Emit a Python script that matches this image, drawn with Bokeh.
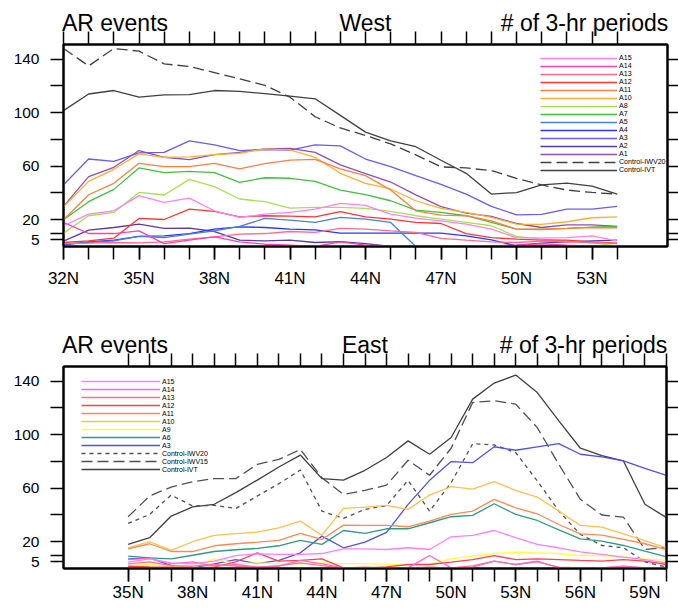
from bokeh.plotting import figure
from bokeh.layouts import column
from bokeh.models import Range1d, LinearAxis, FixedTicker, Legend, LegendItem
from bokeh.embed import file_html
from bokeh.resources import INLINE

FONT = "Liberation Sans"

# ---------------- West panel data ----------------
lat_w = [32, 33, 34, 35, 36, 37, 38, 39, 40, 41, 42, 43, 44, 45, 46, 47, 48, 49, 50, 51, 52, 53, 54]
ivt_w = [101.6, 114, 116.6, 111.6, 113.4, 113.6, 116.6, 116, 114.3, 112.4, 110.4, 98, 85.5, 79, 74.6, 64.5, 54.7, 39.2, 40.3, 46.1, 47.3, 45.1, 39.1]
iwv20_w = [148, 135, 148, 146, 136.5, 134.6, 130, 125.3, 120.5, 111.6, 97, 88.6, 83, 76.7, 68.5, 59.5, 58.7, 56.7, 51, 46, 42.2, 40.4, 39.2]
a1_w = [30, 52.2, 59.2, 71.7, 66.7, 65, 68.7, 70.4, 73, 73.4, 70.4, 61, 54.5, 48.2, 38.6, 29.8, 25, 22.5, 17.2, 14.2, 16.2, 16.2, 15]
a2_w = [4, 12.2, 14.2, 16.7, 13.5, 13.7, 11.2, 4.7, 4.2, 4.7, 3, 3.7, 2.2, 0, 0, 0.3, 0.3, 0.5, 1, 2.5, 3.5, 4.2, 4.7]
a3_w = [46.2, 65.4, 63.7, 70, 70.4, 79, 76, 71.7, 72.5, 72, 75.9, 75.2, 65.4, 59.7, 53, 46.5, 39.2, 30, 23.7, 24, 28, 28, 30]
a4_w = [1.2, 3.5, 4.7, 7.5, 8, 9.7, 13, 14.7, 14.2, 13, 12.5, 10, 10, 10, 10, 10, 8, 5, 0.5, 0.5, 0.5, 0.3, 0.3]
a5_w = [1.7, 3, 4.2, 7.5, 6.7, 9.2, 11.7, 15, 21, 19.7, 18, 21.7, 20.5, 18, 0, 0, 0, 0, 0, 0, 0, 0, 0]
a7_w = [20, 33.5, 42.7, 58.7, 55.2, 56.2, 55.2, 48, 51.4, 51, 48.7, 42.2, 38.7, 34.2, 27.2, 25.5, 23, 18, 13, 12.7, 13.5, 14.5, 15]
a8_w = [10, 23, 25.5, 40.4, 38.5, 50.2, 44.7, 35.5, 33.5, 28.7, 29.2, 29.2, 28.5, 26.2, 23, 20.5, 18, 15.5, 7.5, 5.5, 4.2, 2.7, 0.5]
a10_w = [29.7, 48.7, 57.7, 69.2, 66.7, 67, 68.7, 69.7, 73, 72.2, 66.7, 54.7, 47.2, 43, 34.2, 28.5, 25.5, 21.7, 16.7, 16.5, 18.5, 21.5, 22.2]
a11_w = [20, 38.7, 47.2, 62.2, 59.7, 59.7, 62.2, 58, 62, 64.5, 65.2, 58, 53, 42.2, 26.7, 23.5, 23, 19.2, 13, 13, 13.5, 14.2, 14]
a12_w = [3, 4.2, 6.2, 21, 20.2, 28, 26.2, 22.2, 23, 22.7, 22.2, 26, 22.2, 20.5, 18, 17.2, 9.7, 6.7, 5.5, 4.7, 4.7, 3.5, 2.5]
a13_w = [2.2, 2.5, 3, 2.7, 3.5, 5.5, 7.2, 9.2, 9.7, 11.2, 10.5, 13.5, 13, 11.7, 10.5, 6, 4.7, 3.5, 3, 4, 3.5, 3, 2.2]
a14_w = [18, 9.7, 9.7, 11.7, 2.2, 4.7, 7.2, 3.5, 1.7, 1, 0, 3.5, 1, 0.5, 0, 0.3, 0.5, 0.5, 1, 2, 1, 0.3, 0.5]
a15_w = [15.5, 24.2, 26.7, 38, 33, 36.2, 26.7, 21.7, 24.2, 25.5, 28, 32.2, 30.7, 24.2, 21.2, 19.2, 16.7, 13, 6.7, 6.2, 6.7, 8, 4.2]

# ---------------- East panel data ----------------
lat_e = [35, 36, 37, 38, 39, 40, 41, 42, 43, 44, 45, 46, 47, 48, 49, 50, 51, 52, 53, 54, 55, 56, 57, 58, 59, 60]
ivt_e = [18, 23, 39.2, 46, 48, 56.7, 66.1, 75.9, 84.8, 67.2, 66.1, 73.4, 83, 95.4, 85.4, 97.9, 126.6, 138.6, 144.6, 131.5, 110.3, 89.9, 84.4, 80.4, 48, 38]
iwv15_e = [38.7, 54.2, 60.9, 64.9, 67.2, 67.2, 77.9, 81.6, 88.9, 67.9, 55.4, 58.4, 62.3, 80.9, 69.7, 89.9, 124.1, 125.4, 122.8, 105.3, 77.9, 51.7, 40, 38.4, 14.2, 15.7]
iwv20_e = [33.7, 40.4, 54.9, 46.7, 47.2, 44.9, 54.2, 63.4, 73.6, 42.9, 37.4, 44.2, 47, 65.9, 42.9, 64.2, 93.3, 92.4, 86.6, 65.4, 42.9, 25.5, 17.2, 15.5, 5, 1]
a3_e = [7.2, 8, 2.2, 0.5, 3.5, 6.7, 3.7, 6, 11.7, 24.2, 15.5, 19.7, 27, 47.9, 65.9, 79.9, 79.1, 91, 88.4, 90.9, 93.4, 85.4, 83.4, 80.4, 74.9, 69.7]
a6_e = [9.2, 8, 7.2, 9.9, 12.7, 14, 15, 17, 21, 18, 28.4, 26.2, 29.7, 29.7, 34.2, 38.7, 39.7, 48.4, 40.4, 35.9, 28.9, 22.2, 20.4, 17.2, 13, 8.7]
a9_e = [2.2, 3, 1.7, 0.5, 7.2, 3.5, 4.2, 3.7, 3.5, 4.2, 3.7, 3.7, 3.2, 2.5, 3, 7.2, 9.2, 11.2, 12.2, 11.7, 11.2, 9.7, 9.7, 8.7, 7.2, 6]
a10_e = [15.5, 20, 13.5, 20, 24.7, 26, 27.2, 30.4, 35.4, 24.9, 44.9, 45.9, 47.2, 44.2, 54.9, 61.2, 59.4, 64.9, 58.4, 53.4, 42.9, 32.2, 30.9, 25.9, 20.9, 15.5]
a11_e = [14.7, 18.5, 12.7, 12.7, 17, 18.5, 19.7, 21, 26.2, 21.7, 32.4, 32.2, 32.2, 31.2, 35.4, 40.4, 42.9, 51.7, 45.4, 40.9, 32.9, 25.9, 24.9, 21.7, 18.5, 14.2]
a12_e = [1.7, 1.2, 1, 0.5, 1, 5, 11.7, 5.5, 6, 7.2, 0.5, 0.2, 1.2, 3, 3, 4.7, 6.7, 9.7, 6.7, 7.2, 6.7, 6, 5.5, 6.7, 5.5, 3]
a13_e = [3.5, 5, 2.2, 1.7, 3, 1.7, 1, 2.2, 4.2, 2.2, 0.5, 1, 0.5, 0.5, 1, 0.5, 2, 5.5, 3, 5, 1, 0.5, 0.5, 1.5, 0.5, 0.5]
a14_e = [6.7, 7.5, 3.5, 5, 1.7, 3, 1, 1.7, 6, 3.5, 0.5, 0.3, 0.3, 0.5, 9.7, 0.5, 1, 5.5, 3, 5.5, 0.5, 0.5, 0.5, 1.7, 0.5, 0.5]
a15_e = [4.7, 7.2, 4.2, 3.5, 5.5, 9.7, 11, 10.5, 10.5, 11.2, 14.7, 14.7, 14.2, 15.5, 14.2, 23.7, 24.7, 28.4, 23, 18, 15.5, 12.5, 10.5, 8.5, 6.7, 4.2]

# ticks
y_ticks = [5, 10, 20, 40, 60, 80, 100, 120, 140]
y_tick_labels = ["5", "", "20", "", "60", "", "100", "", "140"]
x_ticks_w = [32, 35, 38, 41, 44, 47, 50, 53]
x_labels_w = ["32N", "35N", "38N", "41N", "44N", "47N", "50N", "53N"]
x_ticks_e = [35, 38, 41, 44, 47, 50, 53, 56, 59]
x_labels_e = ["35N", "38N", "41N", "44N", "47N", "50N", "53N", "56N", "59N"]

# panel titles (left / centre / right) and their approximate rendered widths (px)
title_left = "AR events"
title_right = "# of 3-hr periods"
title_widths = {title_left: 103, title_right: 166}

west_series = [
    ("A15", a15_w, "#ff80ff", "solid"),
    ("A14", a14_w, "#ff40b0", "solid"),
    ("A13", a13_w, "#ff6a8c", "solid"),
    ("A12", a12_w, "#ff3535", "solid"),
    ("A11", a11_w, "#ff7f40", "solid"),
    ("A10", a10_w, "#ffb030", "solid"),
    ("A8", a8_w, "#a8e050", "solid"),
    ("A7", a7_w, "#40c040", "solid"),
    ("A5", a5_w, "#4a80d8", "solid"),
    ("A4", a4_w, "#2a36ff", "solid"),
    ("A3", a3_w, "#6a5cf0", "solid"),
    ("A2", a2_w, "#5a3aa8", "solid"),
    ("A1", a1_w, "#9050b0", "solid"),
    ("Control-IWV20", iwv20_w, "#404040", "11 5"),
    ("Control-IVT", ivt_w, "#404040", "solid"),
]
east_series = [
    ("A15", a15_e, "#ff80ff", "solid"),
    ("A14", a14_e, "#ff69c0", "solid"),
    ("A13", a13_e, "#ff7090", "solid"),
    ("A12", a12_e, "#ff4050", "solid"),
    ("A11", a11_e, "#ff8a50", "solid"),
    ("A10", a10_e, "#ffc050", "solid"),
    ("A9", a9_e, "#ffff40", "solid"),
    ("A6", a6_e, "#309a85", "solid"),
    ("A3", a3_e, "#5050f0", "solid"),
    ("Control-IWV20", iwv20_e, "#505050", "4 4"),
    ("Control-IWV15", iwv15_e, "#505050", "11 5"),
    ("Control-IVT", ivt_e, "#404040", "solid"),
]


def style_axis(ax, ticks, minor, labels, size, standoff, major_len=13):
    ax.ticker = FixedTicker(ticks=ticks, minor_ticks=minor)
    ax.major_tick_out = major_len
    ax.major_tick_in = 0
    ax.minor_tick_out = 13 if minor else 0
    ax.minor_tick_in = 0
    ax.major_tick_line_width = 1.5
    ax.minor_tick_line_width = 1.5
    ax.major_tick_line_color = "black"
    ax.minor_tick_line_color = "black"
    ax.axis_line_width = 2
    ax.axis_line_color = "black"
    if labels is None:
        ax.major_label_text_font_size = "0px"
        ax.major_label_standoff = 0
        ax.major_label_overrides = {t: "" for t in ticks}
    else:
        ax.major_label_overrides = {t: l for t, l in zip(ticks, labels)}
        ax.major_label_text_font = FONT
        ax.major_label_text_font_size = size
        ax.major_label_text_color = "black"
        ax.major_label_standoff = standoff


def make_panel(lat, series, x0, x1, xt, xl, region, fw, bl, br, bt, bb, leg_loc, leg_gw, leg_font,
               xstand, title_stand):
    p = figure(frame_width=fw, frame_height=202, x_range=Range1d(x0, x1), y_range=Range1d(0, 151),
               output_backend="svg", toolbar_location=None,
               min_border_left=bl, min_border_right=br, min_border_top=bt, min_border_bottom=bb)
    p.grid.visible = False
    p.outline_line_color = "black"
    p.outline_line_width = 2
    p.background_fill_color = "white"
    p.border_fill_color = "white"
    degrees = list(range(lat[0], lat[-1] + 1))
    style_axis(p.xaxis[0], xt, degrees, xl, "17px", xstand)
    style_axis(p.yaxis[0], y_ticks, [], y_tick_labels, "15.5px", 11)

    # top axis: a tick at every degree, no labels
    top = LinearAxis()
    style_axis(top, degrees, [], None, None, 0)
    p.add_layout(top, "above")

    # second (outer) top axis without ticks carrying the three panel titles
    ppu = fw / (x1 - x0)
    t_pos = [round(x0 + title_widths[title_left] / 2 / ppu, 3), round((x0 + x1) / 2, 3),
             round(x1 - title_widths[title_right] / 2 / ppu, 3)]
    ttl = LinearAxis()
    style_axis(ttl, t_pos, [], [title_left, region, title_right], "23px", title_stand, major_len=0)
    ttl.axis_line_color = None
    ttl.major_tick_line_color = None
    p.add_layout(ttl, "above")

    right = LinearAxis()
    style_axis(right, y_ticks, [], None, None, 0)
    p.add_layout(right, "right")

    items = []
    for name, vals, col, dash in reversed(series):
        r = p.line(lat, vals, line_color=col, line_width=1.3, line_dash=dash)
        items.append(LegendItem(label=name, renderers=[r]))
    items.reverse()
    leg = Legend(items=items, location=leg_loc, orientation="vertical",
                 glyph_width=leg_gw, glyph_height=8, label_height=8, label_standoff=2,
                 spacing=0, padding=0, margin=0, border_line_alpha=0, background_fill_alpha=0,
                 label_text_font=FONT, label_text_font_size=leg_font, label_text_color="black")
    p.add_layout(leg)
    return p


p1 = make_panel(lat_w, west_series, 32, 56, x_ticks_w, x_labels_w, "West", 604, 61, 13, 44, 52,
                (477, 72), 77, "7.1px", 9, -4)
p2 = make_panel(lat_e, east_series, 32, 60, x_ticks_e, x_labels_e, "East", 603, 63, 12, 68, 44,
                (18, 95), 79, "7px", 1, -4)

layout = column(p1, p2)
open("out.html", "w").write(file_html(layout, INLINE))
